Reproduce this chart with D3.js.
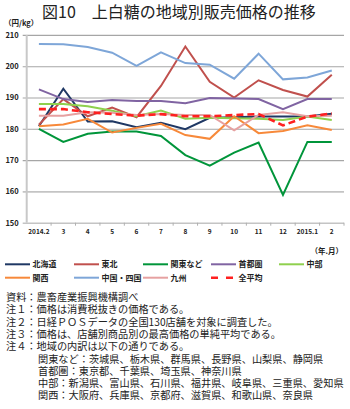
<!DOCTYPE html>
<html>
  <head>
    <meta charset="UTF-8" />
    <script src="https://d3js.org/d3.v7.min.js"></script>
    <style>
      body { margin: 0; background: #fff; }
      text { font-family: "Noto Sans CJK JP", "Noto Sans", sans-serif; fill: #222; }
    </style>
  </head>
  <body>
    <div id="chart"></div>

    <script>
      var width = 350,
        height = 409;

      // months on the x axis
      var months = ["2014.2", "3", "4", "5", "6", "7", "8", "9", "10", "11", "12", "2015.1", "2"];
      var yTicks = [150, 160, 170, 180, 190, 200, 210];

      // prices (yen/kg)
      var hokkaido = [180.8, 192.8, 182.3, 182.4, 180.5, 181.9, 179.9, 183.5, 183.7, 183.9, 183.9, 183.9, 184.8];
      var tohoku = [181.3, 189.5, 184, 186.8, 183.7, 193.7, 206.3, 195, 190, 195.5, 192.4, 190.3, 197.3];
      var kanto = [180, 175.8, 178.4, 179.1, 179.1, 177.7, 171.6, 168.2, 172.4, 175.6, 158.9, 175.8, 175.8];
      var shutoken = [192.6, 189.5, 188.6, 189.2, 188.9, 188.9, 188.2, 189.8, 189.7, 189.5, 186.3, 189.5, 189.5];
      var chubu = [187.9, 187.9, 187.2, 185.8, 184, 185.8, 183.2, 183.5, 183.4, 183.2, 182.8, 183.9, 182.8];
      var kansai = [180.8, 181.4, 183.2, 178.8, 180.3, 181.6, 178, 176.8, 184, 178.6, 179.3, 181.1, 179.6];
      var chugoku = [207.1, 207, 206.1, 204.3, 200.1, 204.4, 201, 200.5, 196, 204, 195.8, 196.4, 198.6];
      var kyushu = [184.2, 184.2, 185.3, 185.1, 184.4, 184.7, 184.4, 184.4, 179.5, 184.4, 185.3, 184, 184.2];
      var average = [186.3, 186.3, 185.3, 184.7, 184.2, 184.7, 184, 184, 184.4, 184.7, 181.1, 183.9, 184.9];

      var series = [
        { name: "北海道", values: hokkaido, color: "#1f3864" },
        { name: "東北", values: tohoku, color: "#c0504d" },
        { name: "関東など", values: kanto, color: "#00953a" },
        { name: "首都圏", values: shutoken, color: "#8064a2" },
        { name: "中部", values: chubu, color: "#8fd04e" },
        { name: "関西", values: kansai, color: "#f7893a" },
        { name: "中国・四国", values: chugoku, color: "#7ea6d8" },
        { name: "九州", values: kyushu, color: "#e6a1a1" },
        { name: "全平均", values: average, color: "#ff2020", dash: true }
      ];

      var notes = [
        "資料：農畜産業振興機構調べ",
        "注１：価格は消費税抜きの価格である。",
        "注２：日経ＰＯＳデータの全国130店舗を対象に調査した。",
        "注３：価格は、店舗別商品別の最高価格の単純平均である。",
        "注４：地域の内訳は以下の通りである。",
        "関東など：茨城県、栃木県、群馬県、長野県、山梨県、静岡県",
        "首都圏：東京都、千葉県、埼玉県、神奈川県",
        "中部：新潟県、富山県、石川県、福井県、岐阜県、三重県、愛知県",
        "関西：大阪府、兵庫県、京都府、滋賀県、和歌山県、奈良県"
      ];

      var svg = d3
        .select("#chart")
        .append("svg")
        .attr("width", width)
        .attr("height", height);

      var plot = { left: 26.7, right: 344, top: 34.9, bottom: 222.7 };

      var x = d3.scaleBand().domain(months).range([plot.left, plot.right]).padding(0);
      var y = d3.scaleLinear().domain([150, 210]).range([plot.bottom, plot.top]);

      // title
      svg
        .append("text")
        .attr("x", 42)
        .attr("y", 18)
        .style("font-size", "16px")
        .text("図10　上白糖の地域別販売価格の推移");

      svg
        .append("text")
        .attr("x", 4)
        .attr("y", 25.5)
        .style("font-size", "7.5px")
        .style("font-weight", "bold")
        .text("（円/kg）");

      // grid + y axis
      var yAxis = svg
        .append("g")
        .attr("transform", "translate(" + plot.left + ",0)")
        .call(
          d3.axisLeft(y)
            .tickValues(yTicks)
            .tickSize(-(plot.right - plot.left))
            .tickSizeOuter(0)
            .tickPadding(8)
        );
      yAxis.select(".domain").remove();
      yAxis.selectAll(".tick line")
        .attr("x1", -4)
        .attr("stroke", (d) => (d <= 160 ? "#c4c4c4" : "#a6a6a6"))
        .attr("stroke-width", (d) => (d <= 160 ? 1.6 : 1.1));
      yAxis.selectAll(".tick text")
        .style("font-size", "7.5px")
        .style("font-weight", "bold")
        .attr("fill", "#222");

      svg
        .append("line")
        .attr("x1", plot.left)
        .attr("x2", plot.left)
        .attr("y1", plot.top)
        .attr("y2", plot.bottom)
        .attr("stroke", "#c8c8c8")
        .attr("stroke-width", 2);

      // x axis labels
      var xAxis = svg
        .append("g")
        .attr("transform", "translate(0," + plot.bottom + ")")
        .call(d3.axisBottom(x).tickSize(0).tickPadding(7));
      xAxis.select(".domain").remove();
      xAxis.selectAll(".tick text")
        .style("font-size", "6.5px")
        .style("font-weight", "bold")
        .attr("fill", "#222");

      // tick marks at month boundaries
      var bounds = months.map((m) => x(m)).concat([x.range()[1]]);
      svg
        .append("g")
        .selectAll("line")
        .data(bounds.slice(1))
        .join("line")
        .attr("x1", (d) => d)
        .attr("x2", (d) => d)
        .attr("y1", plot.bottom)
        .attr("y2", plot.bottom + 3)
        .attr("stroke", "#b0b0b0")
        .attr("stroke-width", 1);

      svg
        .append("text")
        .attr("x", 343)
        .attr("y", 253.5)
        .attr("text-anchor", "end")
        .style("font-size", "7.5px")
        .style("font-weight", "bold")
        .text("（年.月）");

      // lines
      var line = d3
        .line()
        .x((d, i) => x(months[i]) + x.bandwidth() / 2)
        .y((d) => y(d));

      svg
        .append("g")
        .selectAll("path")
        .data(series)
        .join("path")
        .attr("fill", "none")
        .attr("stroke", (d) => d.color)
        .attr("stroke-width", (d) => (d.dash ? 2.6 : 2))
        .attr("stroke-dasharray", (d) => (d.dash ? "7,4" : null))
        .attr("stroke-linejoin", "miter")
        .attr("d", (d) => line(d.values));

      // legend
      var legX = [5, 74, 143, 211, 279];
      var legY = [264.3, 277.7];
      var leg = svg
        .append("g")
        .selectAll("g")
        .data(series)
        .join("g")
        .attr("transform", (d, i) => "translate(" + legX[i % 5] + "," + legY[Math.floor(i / 5)] + ")");
      leg
        .append("line")
        .attr("x1", 0)
        .attr("x2", 25)
        .attr("stroke", (d) => d.color)
        .attr("stroke-width", (d) => (d.dash ? 2.6 : 2))
        .attr("stroke-dasharray", (d) => (d.dash ? "7,8" : null));
      leg
        .append("text")
        .attr("x", 27.5)
        .attr("y", 3)
        .style("font-size", "8px")
        .style("font-weight", "bold")
        .text((d) => d.name);

      // notes
      svg
        .append("g")
        .selectAll("text")
        .data(notes)
        .join("text")
        .attr("x", (d, i) => (i >= 5 ? 38 : 6))
        .attr("y", (d, i) => 301 + i * 12.3)
        .style("font-size", "10.2px")
        .text((d) => d);
    </script>
  </body>
</html>
